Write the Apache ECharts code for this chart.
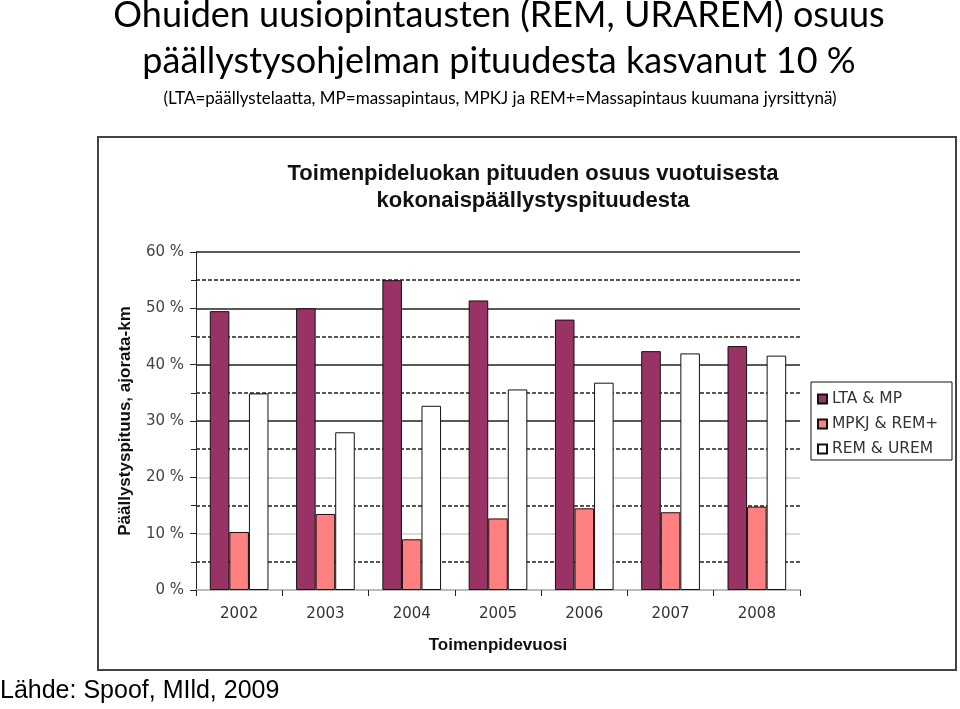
<!DOCTYPE html>
<html>
<head>
<meta charset="utf-8">
<script src="https://cdn.jsdelivr.net/npm/echarts@6/dist/echarts.min.js"></script>
<style>
html,body{margin:0;padding:0;background:#fff;}
#chart{width:960px;height:709px;}
</style>
</head>
<body>
<div id="chart"></div>
<script>
var years = ['2002','2003','2004','2005','2006','2007','2008'];
var ltaMp = [49.5, 50.0, 55.0, 51.4, 48.0, 42.4, 43.3];
var mpkjRem = [10.3, 13.5, 9.0, 12.7, 14.5, 13.8, 14.8];
var remUrem = [34.9, 28.0, 32.7, 35.6, 36.8, 42.0, 41.6];
var seriesNames = ['LTA & MP', 'MPKJ & REM+', 'REM & UREM'];

var chart = echarts.init(document.getElementById('chart'), null, {renderer:'canvas'});
var labFont = 'DejaVu Sans';
var boldFont = 'Liberation Sans';
function bar(name, data, color) {
  return {
    name: name, type: 'bar', data: data,
    barGap: '0%', barCategoryGap: '32%',
    itemStyle: {color: color, borderColor: '#111', borderWidth: 1},
    emphasis: {disabled: true}
  };
}
chart.setOption({
  animation: false,
  backgroundColor: '#fff',
  title: [
    {text: 'Ohuiden uusiopintausten (REM, URAREM) osuus\npäällystysohjelman pituudesta kasvanut 10 %',
     left: 494, textAlign: 'center', top: -13,
     textStyle: {fontFamily: 'Lato', fontWeight: 'normal', fontSize: 36, lineHeight: 46, color: '#000'}},
    {text: '(LTA=päällystelaatta, MP=massapintaus, MPKJ ja REM+=Massapintaus kuumana jyrsittynä)',
     left: 495, textAlign: 'center', top: 85,
     textStyle: {fontFamily: 'Lato', fontWeight: 'normal', fontSize: 17, color: '#000'}},
    {text: 'Toimenpideluokan pituuden osuus vuotuisesta\nkokonaispäällystyspituudesta',
     left: 528, textAlign: 'center', top: 155,
     textStyle: {fontFamily: boldFont, fontWeight: 'bold', fontSize: 22, lineHeight: 27, color: '#111'}}
  ],
  legend: {
    orient: 'vertical', left: 811, top: 391,
    data: seriesNames,
    itemWidth: 9, itemHeight: 9, itemGap: 9,
    padding: [0, 6, 0, 6],
    borderWidth: 0,
    selectedMode: false,
    icon: 'rect',
    textStyle: {fontFamily: labFont, fontSize: 15.5, color: '#333', padding: [0, 0, 0, 0]}
  },
  grid: {left: 196, right: 160, top: 252, bottom: 119, containLabel: false},
  xAxis: {
    type: 'category', data: years,
    name: 'Toimenpidevuosi', nameLocation: 'middle', nameGap: 47,
    nameTextStyle: {fontFamily: boldFont, fontWeight: 'bold', fontSize: 17, color: '#111'},
    axisLine: {lineStyle: {color: '#bbb', width: 2}},
    axisTick: {show: true, length: 6, lineStyle: {color: '#222'}},
    axisLabel: {fontFamily: labFont, fontSize: 15, color: '#333', margin: 17}
  },
  yAxis: {
    type: 'value', min: 0, max: 60, interval: 10,
    name: 'Päällystyspituus, ajorata-km', nameLocation: 'middle', nameGap: 62,
    nameTextStyle: {fontFamily: boldFont, fontWeight: 'bold', fontSize: 17, color: '#111'},
    axisLine: {show: true, lineStyle: {color: '#222', width: 1}},
    axisTick: {show: true, length: 6, lineStyle: {color: '#222'}},
    minorTick: {show: true, splitNumber: 2, length: 5, lineStyle: {color: '#222'}},
    axisLabel: {fontFamily: labFont, fontSize: 15, color: '#444', margin: 12,
      formatter: function (v) { return v + ' %'; }},
    splitLine: {show: true, lineStyle: {color: ['#bbb', '#ccc', '#ccc', '#222', '#222', '#222', '#222'], width: 1.5}},
    minorSplitLine: {show: true, lineStyle: {color: '#222', width: 1.5, type: [4, 2]}}
  },
  graphic: [
    {type: 'rect', shape: {x: 98, y: 137, width: 858, height: 533},
     style: {fill: null, stroke: '#444', lineWidth: 2}, z: -1},
    {type: 'rect', shape: {x: 811, y: 382, width: 141, height: 78},
     style: {fill: null, stroke: '#111', lineWidth: 1}, z: 10},
    {type: 'text', left: 0, top: 679,
     style: {text: 'Lähde: Spoof, MIld, 2009', font: '25px "Liberation Sans"', fill: '#000'}}
  ],
  series: [
    bar(seriesNames[0], ltaMp, '#993366'),
    bar(seriesNames[1], mpkjRem, '#FF8080'),
    bar(seriesNames[2], remUrem, '#ffffff')
  ]
});
</script>
</body>
</html>
